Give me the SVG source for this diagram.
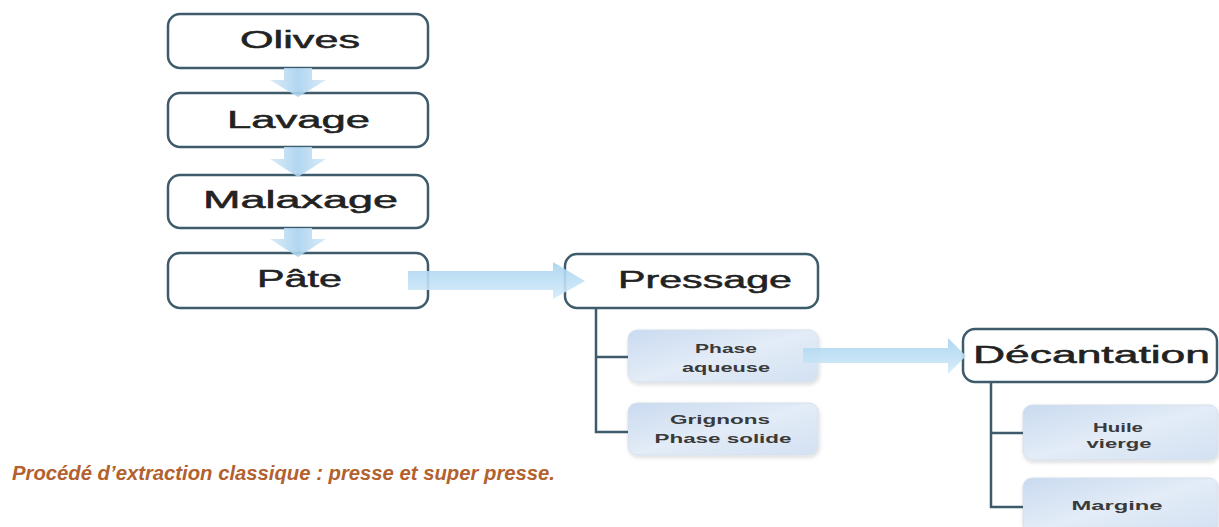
<svg xmlns="http://www.w3.org/2000/svg" width="1219" height="527" viewBox="0 0 1219 527">
<defs>
<linearGradient id="sub" x1="0" y1="0" x2="1" y2="1">
<stop offset="0" stop-color="#c9daf0"/>
<stop offset="0.5" stop-color="#e3ecf7"/>
<stop offset="1" stop-color="#d3e1f2"/>
</linearGradient>
<linearGradient id="vArr" x1="0" y1="0" x2="1" y2="0">
<stop offset="0" stop-color="#d6e9f7"/>
<stop offset="0.5" stop-color="#a9d2ef"/>
<stop offset="1" stop-color="#d6e9f7"/>
</linearGradient>
<linearGradient id="hArr" x1="0" y1="0" x2="0" y2="1">
<stop offset="0" stop-color="#a6d3f0"/>
<stop offset="1" stop-color="#d4ebf9"/>
</linearGradient>
<filter id="sh" x="-10%" y="-10%" width="120%" height="130%">
<feGaussianBlur in="SourceAlpha" stdDeviation="2"/>
<feOffset dx="1" dy="2"/>
<feComponentTransfer><feFuncA type="linear" slope="0.15"/></feComponentTransfer>
<feMerge><feMergeNode/><feMergeNode in="SourceGraphic"/></feMerge>
</filter>
</defs>
<style>
.main{fill:#ffffff;stroke:#3e5b6b;stroke-width:2.5}
.subb{fill:url(#sub);stroke:#d5e0ec;stroke-width:1}
.t{font-family:"Liberation Sans",Arial,sans-serif;fill:#222;stroke:#222;stroke-width:0.5;font-size:23px}
.s{font-family:"Liberation Sans",Arial,sans-serif;fill:#3a3a3a;font-size:12px;font-weight:bold}
.ln{stroke:#3e5b6b;stroke-width:2.5;fill:none}
.va{fill:url(#vArr);opacity:0.9}
.ha{fill:url(#hArr);opacity:0.9}
.cap{font-family:"Liberation Sans",Arial,sans-serif;font-size:21px;font-style:italic;font-weight:bold;fill:#b2612f}
</style>
<rect width="1219" height="527" fill="#ffffff"/>

<g id="n-olives">
<rect class="main" x="168" y="14" width="260" height="54" rx="12"/>
<text class="t" x="240" y="48" textLength="120" lengthAdjust="spacingAndGlyphs">Olives</text>
</g>
<g id="n-lavage">
<rect class="main" x="168" y="93" width="260" height="54" rx="12"/>
<text class="t" x="227" y="128" textLength="143" lengthAdjust="spacingAndGlyphs">Lavage</text>
</g>
<g id="n-malaxage">
<rect class="main" x="168" y="175" width="260" height="53" rx="12"/>
<text class="t" x="203" y="208" textLength="195" lengthAdjust="spacingAndGlyphs">Malaxage</text>
</g>
<g id="n-pate">
<rect class="main" x="168" y="253" width="260" height="55" rx="12"/>
<text class="t" x="257" y="287" textLength="85" lengthAdjust="spacingAndGlyphs">Pâte</text>
</g>
<g id="n-pressage">
<rect class="main" x="565" y="254" width="253" height="54" rx="12"/>
<text class="t" x="618" y="288" textLength="174" lengthAdjust="spacingAndGlyphs">Pressage</text>
</g>
<g id="n-phase-aqueuse">
<rect class="subb" x="628" y="330" width="190" height="52" rx="9" filter="url(#sh)"/>
<text class="s" x="726" y="353" text-anchor="middle" textLength="62" lengthAdjust="spacingAndGlyphs">Phase</text>
<text class="s" x="726" y="372" text-anchor="middle" textLength="88" lengthAdjust="spacingAndGlyphs">aqueuse</text>
</g>
<g id="n-grignons">
<rect class="subb" x="628" y="403" width="190" height="52" rx="9" filter="url(#sh)"/>
<text class="s" x="720" y="424" text-anchor="middle" textLength="100" lengthAdjust="spacingAndGlyphs">Grignons</text>
<text class="s" x="723" y="443" text-anchor="middle" textLength="137" lengthAdjust="spacingAndGlyphs">Phase solide</text>
</g>
<g id="n-decantation">
<rect class="main" x="963" y="329" width="254" height="53" rx="12"/>
<text class="t" x="973" y="363" textLength="237" lengthAdjust="spacingAndGlyphs">Décantation</text>
</g>
<g id="n-huile">
<rect class="subb" x="1023" y="405" width="195" height="55" rx="9" filter="url(#sh)"/>
<text class="s" x="1118" y="432" text-anchor="middle" textLength="50" lengthAdjust="spacingAndGlyphs">Huile</text>
<text class="s" x="1119" y="448" text-anchor="middle" textLength="65" lengthAdjust="spacingAndGlyphs">vierge</text>
</g>
<g id="n-margine">
<rect class="subb" x="1023" y="478" width="195" height="55" rx="9" filter="url(#sh)"/>
<text class="s" x="1117" y="510" text-anchor="middle" textLength="91" lengthAdjust="spacingAndGlyphs">Margine</text>
</g>

<g id="connectors">
<path class="va" d="M284,68 H312 V80 H326 L298,97 L270,80 H284 Z"/>
<path class="va" d="M284,147 H312 V159 H326 L298,177 L270,159 H284 Z"/>
<path class="va" d="M284,228 H312 V239 H326 L298,257 L270,239 H284 Z"/>
<path class="ha" d="M408,271 H553 V262 L585,281 L553,299 V290 H408 Z"/>
<path class="ha" d="M803,348 H948 V338 L966,356 L948,374 V363 H803 Z"/>
<path class="ln" d="M596,308 V432 H628 M596,357 H628"/>
<path class="ln" d="M991,382 V507 H1023 M991,433 H1023"/>
</g>

<text class="cap" x="12" y="480" textLength="543" lengthAdjust="spacingAndGlyphs">Procédé d’extraction classique : presse et super presse.</text>
</svg>
